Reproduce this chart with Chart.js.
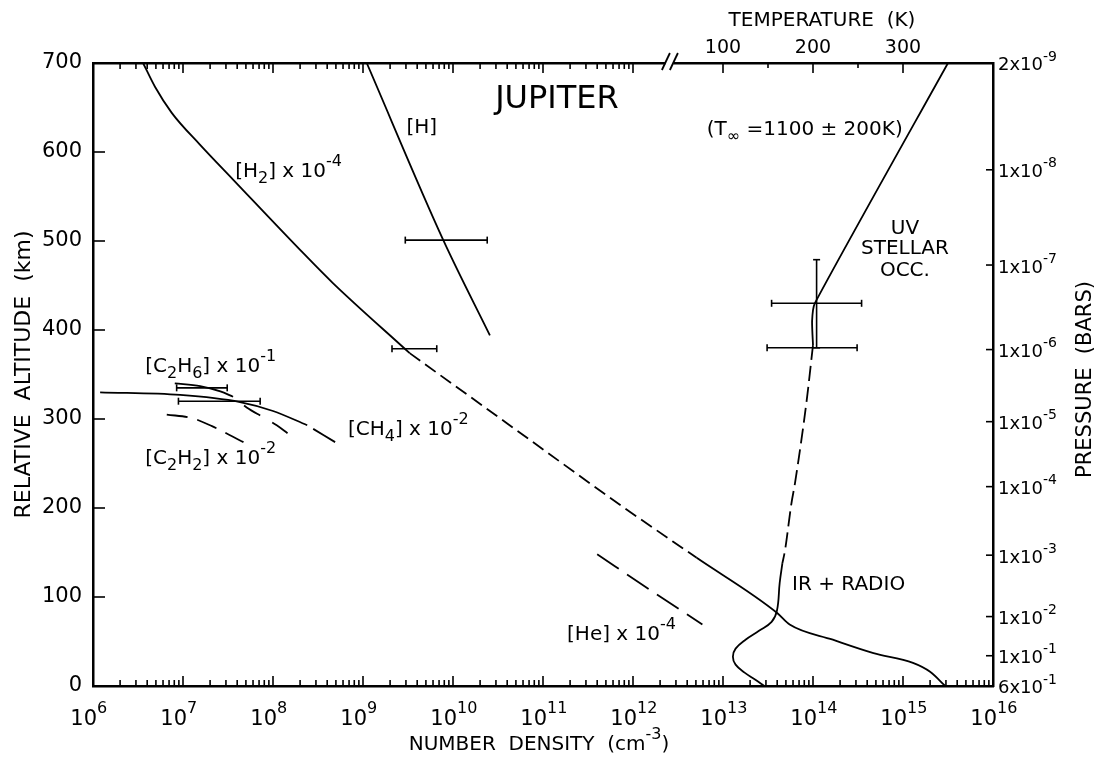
<!DOCTYPE html>
<html>
<head>
<meta charset="utf-8">
<title>Jupiter</title>
<script src="https://cdn.jsdelivr.net/npm/chart.js@4.4.1/dist/chart.umd.min.js"></script>
<style>
  html, body { margin: 0; padding: 0; background: #fff; }
  #wrap { width: 1096px; height: 759px; }
</style>
</head>
<body>
<div id="wrap"><canvas id="jupiterChart"></canvas></div>
<script>
// [density (cm^-3), altitude (km)]
const h2Upper = [[3.6e6, 700], [4.9e6, 673], [7.5e6, 644], [1.55e7, 608], [3.6e7, 569], [2.0e8, 490], [4.6e8, 453], [3.3e9, 374]];
const h2Middle = [[3.3e9, 374], [4.0e10, 295], [7.8e11, 201], [5.1e12, 144]];
const h2Lower = [[5.1e12, 144], [4.0e13, 82], [5.5e13, 69], [1.66e14, 52], [4.7e14, 37], [1.29e15, 26], [2.0e15, 16], [2.95e15, 0]];
const hAtom = [[1.1e9, 700], [7.8e9, 501], [2.57e10, 394]];
const ch4Solid = [[1.2e6, 330], [9.3e6, 327], [4.3e7, 319], [1.0e8, 309], [2.4e8, 293]];
const ch4Dashed = [[2.4e8, 293], [4.9e8, 274]];
const c2h6Solid = [[8.1e6, 340], [1.55e7, 337], [2.6e7, 331], [3.6e7, 325]];
const c2h6Dashed = [[3.6e7, 325], [5.1e7, 313], [7.8e7, 302], [1.1e8, 293], [1.45e8, 284]];
const c2h2 = [[6.6e6, 305], [1.26e7, 301], [2.1e7, 292], [4.7e7, 274]];
const he = [[4.0e11, 148], [1.6e12, 107], [5.9e12, 69]];

// error bars [density, altitude]
const hBar = [[2.95e9, 501], [2.4e10, 501]];
const h2Bar = [[2.1e9, 379], [6.6e9, 379]];
const c2h6BarA = [[8.5e6, 335], [3.1e7, 335]];
const c2h6BarB = [[8.9e6, 320], [7.2e7, 320]];

// [temperature (K), altitude (km)]
const tempUV = [[350, 700], [202, 430], [199, 410], [200, 383]];
const tempMid = [[200, 383], [193, 321], [180, 228], [176, 205], [169, 153], [166, 138]];
const tempIR = [[166, 138], [163, 116], [160, 85], [154, 72], [140, 62], [125, 52], [114, 42], [111, 33], [114, 24], [124, 15], [136, 7], [146, 0]];
const tempBarA = [[154, 430], [254, 430]];
const tempBarB = [[149, 380], [249, 380]];
const tempBarV = [[204, 380], [204, 479]];

// axes
const densityExponents = [6, 7, 8, 9, 10, 11, 12, 13, 14, 15, 16];
const topLogLimit = 1e12;
const tempTicks = [100, 150, 200, 250, 300];
const axisBreakT = 41;
const pressureAlt = [700, 580, 473, 378, 297, 224, 147, 78, 34, 0];
const pressureText = ['2x10^{-9}', '1x10^{-8}', '1x10^{-7}', '1x10^{-6}', '1x10^{-5}', '1x10^{-4}', '1x10^{-3}', '1x10^{-2}', '1x10^{-1}', '6x10^{-1}'];

// annotations: text and anchor [density, altitude]
const noteText = ['JUPITER', '[H]', '[H_{2}] x 10^{-4}', '(T_{∞} =1100 ± 200K)', 'UV', 'STELLAR', 'OCC.',
  '[C_{2}H_{6}] x 10^{-1}', '[C_{2}H_{2}] x 10^{-2}', '[CH_{4}] x 10^{-2}', '[He] x 10^{-4}', 'IR + RADIO'];
const noteAt = [[1.43e11, 662], [4.5e9, 630], [3.8e7, 580], [6.6e12, 627], [1.05e15, 516], [1.05e15, 493], [1.05e15, 469],
  [3.8e6, 361], [3.8e6, 258], [6.8e8, 290], [1.85e11, 60], [5.85e13, 116]];
const noteAlign = ['center', 'center', 'left', 'left', 'center', 'center', 'center', 'left', 'left', 'left', 'left', 'left'];

const FONT = '"DejaVu Sans", sans-serif';

const densityTicks = [];
densityExponents.forEach(e => {
    for (let m = 1; m <= 9; m++) {
        if (e < 16 || m === 1) densityTicks.push(m * Math.pow(10, e));
    }
});

function isDecade(v) {
    const l = Math.log10(v);
    return Math.abs(l - Math.round(l)) < 1e-9;
}

function curve(points, extra) {
    return Object.assign({
        data: points.map(([x, y]) => ({ x, y })),
        showLine: true,
        borderColor: '#000',
        borderWidth: 1.8,
        pointRadius: 0,
        cubicInterpolationMode: 'monotone',
        fill: false,
        xAxisID: 'x',
        yAxisID: 'y'
    }, extra);
}

function errorBar(points, rot, axis) {
    return curve(points, {
        cubicInterpolationMode: 'default',
        tension: 0,
        borderWidth: 1.6,
        pointRadius: 3.5,
        pointStyle: 'line',
        pointRotation: rot,
        pointBorderColor: '#000',
        pointBorderWidth: 1.6,
        xAxisID: axis
    });
}

// text with ^{sup} and _{sub} parts
function richText(ctx, str, x, y, size, align) {
    const parts = [];
    const re = /([\^_])\{([^}]*)\}/g;
    let last = 0, m;
    while ((m = re.exec(str))) {
        if (m.index > last) parts.push({ t: str.slice(last, m.index), k: '' });
        parts.push({ t: m[2], k: m[1] });
        last = re.lastIndex;
    }
    if (last < str.length) parts.push({ t: str.slice(last), k: '' });

    const small = Math.round(size * 0.78);
    let w = 0;
    parts.forEach(p => {
        ctx.font = (p.k ? small : size) + 'px ' + FONT;
        p.w = ctx.measureText(p.t).width;
        w += p.w;
    });
    let cx = align === 'center' ? x - w / 2 : (align === 'right' ? x - w : x);
    const base = y + size * 0.36;
    ctx.textAlign = 'left';
    ctx.textBaseline = 'alphabetic';
    parts.forEach(p => {
        ctx.font = (p.k ? small : size) + 'px ' + FONT;
        const dy = p.k === '^' ? -size * 0.55 : (p.k === '_' ? size * 0.3 : 0);
        ctx.fillText(p.t, cx, base + dy);
        cx += p.w;
    });
}

const decorPlugin = {
    id: 'jupiterDecor',
    afterDraw(chart) {
        const { ctx, chartArea: a } = chart;
        const { x, x2, y, y2 } = chart.scales;
        ctx.save();
        ctx.strokeStyle = '#000';
        ctx.fillStyle = '#000';
        ctx.lineWidth = 1.6;
        const seg = (x0, y0, x1, y1) => {
            ctx.beginPath(); ctx.moveTo(x0, y0); ctx.lineTo(x1, y1); ctx.stroke();
        };

        // inward ticks
        x.ticks.forEach(t => {
            const px = x.getPixelForValue(t.value);
            const len = isDecade(t.value) ? 10 : 6;
            seg(px, a.bottom, px, a.bottom - len);
            if (t.value <= topLogLimit) seg(px, a.top, px, a.top + len);
        });
        x2.ticks.forEach(t => {
            const px = x2.getPixelForValue(t.value);
            seg(px, a.top, px, a.top + (t.value % 100 === 0 ? 10 : 5));
        });
        y.ticks.forEach(t => {
            const py = y.getPixelForValue(t.value);
            seg(a.left, py, a.left + 12, py);
        });
        y2.ticks.forEach(t => {
            const py = y2.getPixelForValue(t.value);
            seg(a.right - 7, py, a.right, py);
        });

        // axis break on top
        const bx = x2.getPixelForValue(axisBreakT);
        ctx.fillStyle = '#fff';
        ctx.fillRect(bx - 4.5, a.top - 2, 8, 4);
        ctx.fillStyle = '#000';
        ctx.lineWidth = 1.8;
        [-4, 4].forEach(o => seg(bx + o - 4, a.top + 7, bx + o + 4, a.top - 10));

        // bottom labels 10^n
        densityExponents.forEach(e => {
            const px = x.getPixelForValue(Math.pow(10, e));
            ctx.textBaseline = 'alphabetic';
            ctx.font = '21px ' + FONT;
            ctx.textAlign = 'right';
            ctx.fillText('10', px + 4, a.bottom + 39);
            ctx.font = '16px ' + FONT;
            ctx.textAlign = 'left';
            ctx.fillText(String(e), px + 4, a.bottom + 27);
        });

        // pressure labels
        pressureAlt.forEach((alt, i) => {
            const py = y2.getPixelForValue(alt);
            richText(ctx, pressureText[i], a.right + 5, py + 1, 18, 'left');
        });

        // annotations
        noteText.forEach((t, i) => {
            const px = x.getPixelForValue(noteAt[i][0]);
            const py = y.getPixelForValue(noteAt[i][1]);
            richText(ctx, t, px, py, i === 0 ? 32 : 20, noteAlign[i]);
        });

        // axis titles
        richText(ctx, 'NUMBER  DENSITY  (cm^{-3})', (a.left + a.right) / 2 - 4, a.bottom + 57, 20, 'center');
        richText(ctx, 'TEMPERATURE  (K)', x2.getPixelForValue(210), 19, 20, 'center');

        ctx.save();
        ctx.translate(a.left - 71, (a.top + a.bottom) / 2);
        ctx.rotate(-Math.PI / 2);
        richText(ctx, 'RELATIVE  ALTITUDE  (km)', 0, 0, 22, 'center');
        ctx.restore();

        ctx.save();
        ctx.translate(a.right + 90, (a.top + a.bottom) / 2 + 5);
        ctx.rotate(-Math.PI / 2);
        richText(ctx, 'PRESSURE  (BARS)', 0, 0, 21, 'center');
        ctx.restore();

        ctx.restore();
    }
};

const border = { display: true, color: '#000', width: 2.5 };
const noGrid = { display: false, drawTicks: false };

new Chart(document.getElementById('jupiterChart'), {
    type: 'scatter',
    data: {
        datasets: [
            curve(h2Upper),
            curve(h2Middle, { borderDash: [13, 6] }),
            curve(h2Lower),
            curve(hAtom),
            curve(ch4Solid),
            curve(ch4Dashed, { borderDash: [26, 7], borderDashOffset: 26 }),
            curve(c2h6Solid),
            curve(c2h6Dashed, { borderDash: [19, 14], borderDashOffset: 19 }),
            curve(c2h2, { borderDash: [21, 10] }),
            curve(he, { borderDash: [26, 10] }),
            errorBar(hBar, 90, 'x'),
            errorBar(h2Bar, 90, 'x'),
            errorBar(c2h6BarA, 90, 'x'),
            errorBar(c2h6BarB, 90, 'x'),
            curve(tempUV, { xAxisID: 'x2', cubicInterpolationMode: 'default', tension: 0.2 }),
            curve(tempMid, { xAxisID: 'x2', borderDash: [15, 6] }),
            curve(tempIR, { xAxisID: 'x2', cubicInterpolationMode: 'default', tension: 0.4 }),
            errorBar(tempBarA, 90, 'x2'),
            errorBar(tempBarB, 90, 'x2'),
            errorBar(tempBarV, 0, 'x2')
        ]
    },
    options: {
        responsive: true,
        maintainAspectRatio: false,
        animation: false,
        events: [],
        layout: { padding: 0 },
        plugins: {
            legend: { display: false },
            tooltip: { enabled: false }
        },
        scales: {
            x: {
                type: 'logarithmic',
                position: 'bottom',
                min: 1e6,
                max: 1e16,
                grid: noGrid,
                border: border,
                ticks: { display: false },
                afterBuildTicks: s => { s.ticks = densityTicks.map(v => ({ value: v })); },
                afterFit: s => { s.height = 73; }
            },
            x2: {
                type: 'linear',
                position: 'top',
                min: -600,
                max: 400,
                grid: noGrid,
                border: border,
                ticks: {
                    color: '#000',
                    font: { family: FONT, size: 19 },
                    padding: 4,
                    maxRotation: 0,
                    autoSkip: false,
                    callback: v => (v % 100 === 0 ? v : '')
                },
                afterBuildTicks: s => { s.ticks = tempTicks.map(v => ({ value: v })); },
                afterFit: s => { s.height = 63; }
            },
            y: {
                type: 'linear',
                position: 'left',
                min: 0,
                max: 700,
                grid: noGrid,
                border: border,
                ticks: {
                    stepSize: 100,
                    color: '#000',
                    font: { family: FONT, size: 21 },
                    padding: 11,
                    autoSkip: false
                },
                afterFit: s => { s.width = 93; }
            },
            y2: {
                type: 'linear',
                position: 'right',
                min: 0,
                max: 700,
                grid: noGrid,
                border: border,
                ticks: { display: false },
                afterBuildTicks: s => { s.ticks = pressureAlt.map(v => ({ value: v })); },
                afterFit: s => { s.width = 103; }
            }
        }
    },
    plugins: [decorPlugin]
});
</script>
</body>
</html>
